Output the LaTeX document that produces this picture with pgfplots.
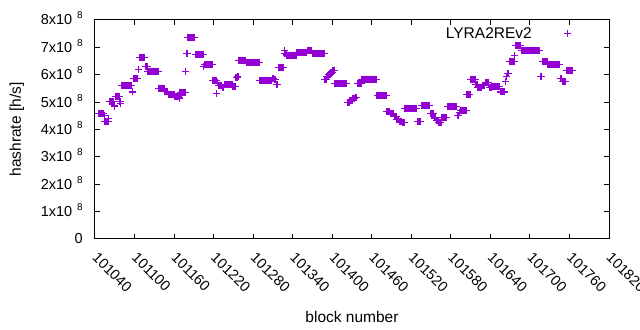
\documentclass[border=0pt]{standalone}
\usepackage{fontspec}
\setmainfont{Liberation Sans}
\usepackage{pgfplots}
\usepackage{pgfplotstable}
\pgfplotsset{compat=1.18}
\definecolor{gpviolet}{RGB}{148,0,211}
\newcommand{\tenE}[1]{#1x10\hspace{5pt}\raisebox{6pt}{\fontsize{10}{10}\selectfont 8}}
\pgfplotstableread[row sep=\\]{
x y\\
101046 4.59e8\\101047 4.59e8\\101048 4.59e8\\101049 4.59e8\\101050 4.59e8\\101051 4.59e8\\101052 4.59e8\\101053 4.59e8\\
101054 4.52e8\\
101055 4.29e8\\101056 4.29e8\\101057 4.29e8\\101058 4.29e8\\101059 4.29e8\\101060 4.29e8\\
101061 4.40e8\\
101062 5.01e8\\101063 5.01e8\\101064 5.01e8\\101065 5.01e8\\101066 5.01e8\\101067 5.01e8\\101068 5.01e8\\
101069 4.89e8\\101070 4.83e8\\
101071 5.22e8\\101072 5.22e8\\101073 5.22e8\\101074 5.22e8\\101075 5.22e8\\101076 5.22e8\\101077 5.22e8\\
101078 5.01e8\\101079 4.95e8\\
101080 5.61e8\\101081 5.61e8\\101082 5.61e8\\101083 5.61e8\\101084 5.61e8\\101085 5.61e8\\101086 5.61e8\\101087 5.61e8\\101088 5.61e8\\101089 5.61e8\\101090 5.61e8\\101091 5.61e8\\101092 5.61e8\\101093 5.61e8\\101094 5.61e8\\101095 5.61e8\\101096 5.61e8\\
101097 5.37e8\\
101098 5.86e8\\101099 5.86e8\\101100 5.86e8\\101101 5.86e8\\101102 5.86e8\\101103 5.86e8\\101104 5.86e8\\101105 5.86e8\\
101106 6.19e8\\
101107 6.63e8\\101108 6.63e8\\101109 6.63e8\\101110 6.63e8\\101111 6.63e8\\101112 6.63e8\\101113 6.63e8\\101114 6.63e8\\101115 6.63e8\\
101116 6.29e8\\101117 6.29e8\\101118 6.29e8\\101119 6.29e8\\
101120 6.13e8\\101121 6.13e8\\101122 6.13e8\\101123 6.13e8\\101124 6.13e8\\101125 6.13e8\\101126 6.13e8\\101127 6.13e8\\101128 6.13e8\\101129 6.13e8\\101130 6.13e8\\101131 6.13e8\\101132 6.13e8\\101133 6.13e8\\101134 6.13e8\\101135 6.13e8\\101136 6.13e8\\
101137 5.51e8\\101138 5.51e8\\101139 5.51e8\\101140 5.51e8\\101141 5.51e8\\101142 5.51e8\\101143 5.51e8\\101144 5.51e8\\101145 5.51e8\\
101146 5.39e8\\101147 5.39e8\\101148 5.39e8\\101149 5.39e8\\101150 5.39e8\\
101151 5.28e8\\101152 5.28e8\\101153 5.28e8\\101154 5.28e8\\101155 5.28e8\\101156 5.28e8\\101157 5.28e8\\101158 5.28e8\\101159 5.28e8\\101160 5.28e8\\
101161 5.19e8\\101162 5.19e8\\101163 5.19e8\\101164 5.19e8\\101165 5.19e8\\101166 5.19e8\\101167 5.19e8\\
101168 5.15e8\\
101169 5.35e8\\101170 5.35e8\\101171 5.35e8\\101172 5.35e8\\101173 5.35e8\\101174 5.35e8\\101175 5.35e8\\101176 5.35e8\\101177 5.35e8\\
101178 6.13e8\\101179 6.78e8\\101180 6.78e8\\
101181 7.36e8\\101182 7.36e8\\101183 7.36e8\\101184 7.36e8\\101185 7.36e8\\101186 7.36e8\\101187 7.36e8\\101188 7.36e8\\101189 7.36e8\\101190 7.36e8\\101191 7.36e8\\
101192 6.74e8\\101193 6.74e8\\101194 6.74e8\\101195 6.74e8\\101196 6.74e8\\101197 6.74e8\\101198 6.74e8\\101199 6.74e8\\101200 6.74e8\\101201 6.74e8\\101202 6.74e8\\101203 6.74e8\\101204 6.74e8\\
101205 6.29e8\\
101206 6.37e8\\101207 6.37e8\\101208 6.37e8\\101209 6.37e8\\101210 6.37e8\\101211 6.37e8\\101212 6.37e8\\101213 6.37e8\\101214 6.37e8\\101215 6.37e8\\101216 6.37e8\\101217 6.37e8\\101218 6.37e8\\
101219 5.79e8\\101220 5.79e8\\101221 5.79e8\\101222 5.79e8\\101223 5.79e8\\101224 5.79e8\\
101225 5.32e8\\101226 5.70e8\\
101227 5.62e8\\101228 5.62e8\\101229 5.62e8\\101230 5.62e8\\101231 5.62e8\\101232 5.62e8\\
101233 5.55e8\\101234 5.55e8\\101235 5.55e8\\
101236 5.63e8\\101237 5.63e8\\101238 5.63e8\\101239 5.63e8\\101240 5.63e8\\101241 5.63e8\\101242 5.63e8\\101243 5.63e8\\101244 5.63e8\\101245 5.63e8\\101246 5.63e8\\101247 5.63e8\\101248 5.63e8\\
101249 5.58e8\\101250 5.58e8\\101251 5.58e8\\101252 5.58e8\\101253 5.58e8\\
101254 5.90e8\\101255 5.90e8\\101256 5.90e8\\101257 5.95e8\\
101258 6.53e8\\101259 6.53e8\\101260 6.53e8\\101261 6.53e8\\101262 6.53e8\\101263 6.53e8\\101264 6.53e8\\101265 6.53e8\\101266 6.53e8\\101267 6.53e8\\101268 6.53e8\\101269 6.53e8\\
101270 6.45e8\\101271 6.45e8\\101272 6.45e8\\101273 6.45e8\\101274 6.45e8\\101275 6.45e8\\101276 6.45e8\\101277 6.45e8\\101278 6.45e8\\101279 6.45e8\\101280 6.45e8\\101281 6.45e8\\101282 6.45e8\\101283 6.45e8\\101284 6.45e8\\101285 6.45e8\\101286 6.45e8\\101287 6.45e8\\101288 6.45e8\\101289 6.45e8\\
101290 5.79e8\\101291 5.79e8\\101292 5.79e8\\101293 5.79e8\\101294 5.79e8\\101295 5.79e8\\101296 5.79e8\\101297 5.79e8\\101298 5.79e8\\101299 5.79e8\\101300 5.79e8\\101301 5.79e8\\101302 5.79e8\\101303 5.79e8\\101304 5.79e8\\101305 5.79e8\\101306 5.79e8\\101307 5.79e8\\101308 5.79e8\\
101309 5.86e8\\101310 5.86e8\\101311 5.86e8\\
101312 5.82e8\\101313 5.82e8\\101314 5.82e8\\
101315 5.65e8\\101316 5.65e8\\101317 5.65e8\\
101318 6.28e8\\101319 6.28e8\\101320 6.28e8\\101321 6.28e8\\101322 6.28e8\\101323 6.28e8\\101324 6.28e8\\101325 6.28e8\\101326 6.28e8\\
101327 6.90e8\\101328 6.78e8\\101329 6.78e8\\101330 6.78e8\\
101331 6.72e8\\101332 6.72e8\\101333 6.72e8\\101334 6.72e8\\101335 6.72e8\\101336 6.72e8\\101337 6.72e8\\101338 6.72e8\\101339 6.72e8\\101340 6.72e8\\101341 6.72e8\\101342 6.72e8\\101343 6.72e8\\101344 6.72e8\\101345 6.72e8\\
101346 6.81e8\\101347 6.81e8\\101348 6.81e8\\101349 6.81e8\\101350 6.81e8\\101351 6.81e8\\101352 6.81e8\\101353 6.81e8\\101354 6.81e8\\101355 6.81e8\\101356 6.81e8\\101357 6.81e8\\101358 6.81e8\\101359 6.81e8\\101360 6.81e8\\101361 6.81e8\\
101362 6.89e8\\101363 6.89e8\\101364 6.89e8\\101365 6.89e8\\101366 6.89e8\\101367 6.89e8\\101368 6.89e8\\101369 6.89e8\\
101370 6.77e8\\101371 6.77e8\\101372 6.77e8\\101373 6.77e8\\101374 6.77e8\\101375 6.77e8\\101376 6.77e8\\101377 6.77e8\\101378 6.77e8\\101379 6.77e8\\101380 6.77e8\\101381 6.77e8\\101382 6.77e8\\101383 6.77e8\\101384 6.77e8\\101385 6.77e8\\101386 6.77e8\\101387 6.77e8\\101388 6.77e8\\
101389 5.84e8\\101390 5.84e8\\101391 5.84e8\\
101392 5.92e8\\101393 5.92e8\\101394 5.92e8\\
101395 6.00e8\\101396 6.00e8\\101397 6.00e8\\
101398 6.08e8\\101399 6.08e8\\101400 6.08e8\\
101401 6.17e8\\101402 6.17e8\\101403 6.17e8\\
101404 5.68e8\\101405 5.68e8\\101406 5.68e8\\101407 5.68e8\\101408 5.68e8\\101409 5.68e8\\101410 5.68e8\\101411 5.68e8\\101412 5.68e8\\101413 5.68e8\\101414 5.68e8\\101415 5.68e8\\101416 5.68e8\\101417 5.68e8\\101418 5.68e8\\101419 5.68e8\\101420 5.68e8\\101421 5.68e8\\101422 5.68e8\\
101423 4.98e8\\101424 4.98e8\\101425 4.98e8\\101426 4.98e8\\
101427 5.06e8\\101428 5.06e8\\101429 5.06e8\\101430 5.06e8\\
101431 5.13e8\\101432 5.13e8\\101433 5.13e8\\101434 5.13e8\\
101435 5.17e8\\101436 5.17e8\\101437 5.17e8\\
101438 5.68e8\\101439 5.68e8\\101440 5.68e8\\101441 5.68e8\\101442 5.68e8\\101443 5.68e8\\101444 5.68e8\\
101445 5.84e8\\101446 5.84e8\\101447 5.84e8\\101448 5.84e8\\101449 5.84e8\\101450 5.84e8\\101451 5.84e8\\101452 5.84e8\\101453 5.84e8\\101454 5.84e8\\101455 5.84e8\\101456 5.84e8\\101457 5.84e8\\101458 5.84e8\\101459 5.84e8\\101460 5.84e8\\101461 5.84e8\\101462 5.84e8\\101463 5.84e8\\101464 5.84e8\\101465 5.84e8\\101466 5.84e8\\101467 5.84e8\\
101468 5.23e8\\101469 5.23e8\\101470 5.23e8\\101471 5.23e8\\101472 5.23e8\\101473 5.23e8\\101474 5.23e8\\101475 5.23e8\\101476 5.23e8\\101477 5.23e8\\101478 5.23e8\\101479 5.23e8\\101480 5.23e8\\101481 5.23e8\\101482 5.23e8\\
101483 4.65e8\\101484 4.65e8\\101485 4.65e8\\101486 4.65e8\\101487 4.65e8\\
101488 4.57e8\\101489 4.57e8\\101490 4.57e8\\101491 4.57e8\\101492 4.57e8\\101493 4.57e8\\
101494 4.47e8\\101495 4.47e8\\101496 4.47e8\\101497 4.47e8\\
101498 4.38e8\\101499 4.38e8\\101500 4.38e8\\101501 4.38e8\\
101502 4.30e8\\101503 4.30e8\\101504 4.30e8\\101505 4.30e8\\
101506 4.25e8\\101507 4.25e8\\101508 4.25e8\\101509 4.25e8\\
101510 4.77e8\\101511 4.77e8\\101512 4.77e8\\101513 4.77e8\\101514 4.77e8\\101515 4.77e8\\101516 4.77e8\\101517 4.77e8\\101518 4.77e8\\101519 4.77e8\\101520 4.77e8\\101521 4.77e8\\101522 4.77e8\\101523 4.77e8\\101524 4.77e8\\101525 4.77e8\\101526 4.77e8\\101527 4.77e8\\101528 4.77e8\\
101529 4.29e8\\101530 4.29e8\\101531 4.29e8\\101532 4.29e8\\101533 4.29e8\\101534 4.29e8\\
101535 4.88e8\\101536 4.88e8\\101537 4.88e8\\101538 4.88e8\\101539 4.88e8\\101540 4.88e8\\101541 4.88e8\\101542 4.88e8\\101543 4.88e8\\101544 4.88e8\\101545 4.88e8\\101546 4.88e8\\101547 4.88e8\\101548 4.88e8\\
101549 4.58e8\\101550 4.58e8\\101551 4.58e8\\101552 4.58e8\\101553 4.58e8\\101554 4.58e8\\
101555 4.42e8\\101556 4.42e8\\101557 4.42e8\\
101558 4.33e8\\101559 4.33e8\\101560 4.33e8\\101561 4.33e8\\
101562 4.25e8\\101563 4.25e8\\101564 4.25e8\\101565 4.25e8\\
101566 4.44e8\\101567 4.44e8\\101568 4.44e8\\101569 4.44e8\\101570 4.44e8\\101571 4.44e8\\101572 4.44e8\\101573 4.44e8\\101574 4.44e8\\
101575 4.84e8\\101576 4.84e8\\101577 4.84e8\\101578 4.84e8\\101579 4.84e8\\101580 4.84e8\\101581 4.84e8\\101582 4.84e8\\101583 4.84e8\\101584 4.84e8\\101585 4.84e8\\101586 4.84e8\\101587 4.84e8\\101588 4.84e8\\101589 4.84e8\\
101590 4.52e8\\101591 4.52e8\\101592 4.52e8\\101593 4.62e8\\
101594 4.70e8\\101595 4.70e8\\101596 4.70e8\\101597 4.70e8\\101598 4.70e8\\101599 4.70e8\\101600 4.70e8\\101601 4.70e8\\101602 4.70e8\\101603 4.70e8\\
101604 5.27e8\\101605 5.27e8\\101606 5.27e8\\101607 5.27e8\\101608 5.27e8\\101609 5.27e8\\
101610 5.84e8\\101611 5.84e8\\101612 5.84e8\\101613 5.84e8\\101614 5.84e8\\101615 5.84e8\\101616 5.84e8\\101617 5.84e8\\
101618 5.64e8\\101619 5.64e8\\101620 5.64e8\\
101621 5.55e8\\101622 5.55e8\\101623 5.55e8\\101624 5.55e8\\101625 5.55e8\\101626 5.55e8\\101627 5.55e8\\
101628 5.62e8\\101629 5.62e8\\101630 5.62e8\\101631 5.62e8\\
101632 5.72e8\\101633 5.72e8\\101634 5.72e8\\101635 5.72e8\\101636 5.72e8\\101637 5.72e8\\
101638 5.52e8\\101639 5.52e8\\101640 5.52e8\\101641 5.52e8\\
101642 5.57e8\\101643 5.57e8\\101644 5.57e8\\101645 5.57e8\\101646 5.57e8\\101647 5.57e8\\101648 5.57e8\\101649 5.57e8\\101650 5.57e8\\101651 5.57e8\\101652 5.57e8\\101653 5.57e8\\101654 5.57e8\\
101655 5.37e8\\101656 5.37e8\\101657 5.37e8\\101658 5.37e8\\101659 5.37e8\\101660 5.37e8\\101661 5.37e8\\101662 5.37e8\\
101663 5.76e8\\101664 5.95e8\\101665 5.95e8\\101666 6.03e8\\101667 6.03e8\\101668 6.03e8\\
101669 6.50e8\\101670 6.50e8\\101671 6.50e8\\101672 6.50e8\\101673 6.50e8\\101674 6.50e8\\101675 6.50e8\\101676 6.50e8\\
101677 6.71e8\\
101678 7.07e8\\101679 7.07e8\\101680 7.07e8\\101681 7.07e8\\101682 7.07e8\\101683 7.07e8\\101684 7.07e8\\101685 7.07e8\\101686 7.07e8\\
101687 6.89e8\\101688 6.89e8\\101689 6.89e8\\101690 6.89e8\\101691 6.89e8\\101692 6.89e8\\101693 6.89e8\\101694 6.89e8\\101695 6.89e8\\101696 6.89e8\\101697 6.89e8\\101698 6.89e8\\101699 6.89e8\\101700 6.89e8\\101701 6.89e8\\101702 6.89e8\\101703 6.89e8\\101704 6.89e8\\101705 6.89e8\\101706 6.89e8\\101707 6.89e8\\101708 6.89e8\\101709 6.89e8\\101710 6.89e8\\101711 6.89e8\\101712 6.89e8\\101713 6.89e8\\101714 6.89e8\\101715 6.89e8\\
101716 5.92e8\\101717 5.92e8\\101718 5.92e8\\
101719 6.48e8\\101720 6.48e8\\101721 6.48e8\\101722 6.48e8\\101723 6.48e8\\101724 6.48e8\\101725 6.48e8\\101726 6.48e8\\
101727 6.36e8\\101728 6.36e8\\101729 6.36e8\\101730 6.36e8\\101731 6.36e8\\101732 6.36e8\\101733 6.36e8\\101734 6.36e8\\101735 6.36e8\\101736 6.36e8\\101737 6.36e8\\101738 6.36e8\\101739 6.36e8\\101740 6.36e8\\101741 6.36e8\\101742 6.36e8\\101743 6.36e8\\101744 6.36e8\\101745 6.36e8\\
101746 5.86e8\\101747 5.86e8\\101748 5.86e8\\
101749 5.76e8\\101750 5.76e8\\101751 5.76e8\\101752 5.76e8\\101753 5.76e8\\101754 5.76e8\\
101755 6.16e8\\101756 6.16e8\\101757 6.16e8\\101758 6.16e8\\101759 6.16e8\\101760 6.16e8\\101761 6.16e8\\101762 6.16e8\\101763 6.16e8\\101764 6.16e8\\101765 6.16e8\\
}\hashdata
\begin{document}
\fontsize{14.5}{17}\selectfont
\begin{tikzpicture}
\begin{axis}[
  scale only axis, width=514pt, height=219pt,
  xmin=101040, xmax=101820, ymin=0, ymax=8e8,
  xtick={101040,101100,101160,101220,101280,101340,101400,101460,101520,101580,101640,101700,101760,101820},
  xticklabels={101040,101100,101160,101220,101280,101340,101400,101460,101520,101580,101640,101700,101760,101820},
  xticklabel style={yshift=-16pt, rotate=-45, anchor=west, inner sep=0pt},
  ytick={0,1e8,2e8,3e8,4e8,5e8,6e8,7e8,8e8},
  yticklabels={0,\tenE{1},\tenE{2},\tenE{3},\tenE{4},\tenE{5},\tenE{6},\tenE{7},\tenE{8}},
  yticklabel style={anchor=base east, inner sep=0pt, xshift=-12pt, yshift=-5pt},
  scaled x ticks=false, scaled y ticks=false,
  tick align=inside, xtick pos=both, ytick pos=both,
  major tick length=5pt,
  axis line style={line width=1pt, black},
  every tick/.style={black, line width=1pt},
  xlabel={block number}, ylabel={hashrate [h/s]},
  xlabel style={at={(axis description cs:0.5,-0.356)}, anchor=center, inner sep=0pt, font=\fontsize{15.5}{18}\selectfont},
  ylabel style={at={(axis description cs:-0.152,0.5)}, anchor=center, inner sep=0pt, font=\fontsize{15.5}{18}\selectfont},
  legend plot pos=right,
  legend cell align=right,
  legend image code/.code={\draw[gpviolet, line width=1.2pt, mark=+, mark size=3.5pt, mark options={gpviolet, solid, line width=1.2pt}] plot coordinates {(0.3cm,0cm)};},
  legend style={draw=none, fill=none, at={(axis description cs:1,1)}, anchor=north east, xshift=-35pt, yshift=-3pt,
    font=\fontsize{15.5}{18}\selectfont,
    /tikz/every odd column/.append style={column sep=30pt}},
]
\addplot[only marks, mark=+, mark size=3.5pt, color=gpviolet, line width=1.1pt] table[x=x, y=y] {\hashdata};
\addlegendentry{LYRA2REv2}
\end{axis}
\pgfresetboundingbox
\path[use as bounding box] ([xshift=-95pt,yshift=-91pt]current axis.south west) rectangle ([xshift=31pt,yshift=20pt]current axis.north east);
\end{tikzpicture}
\end{document}
